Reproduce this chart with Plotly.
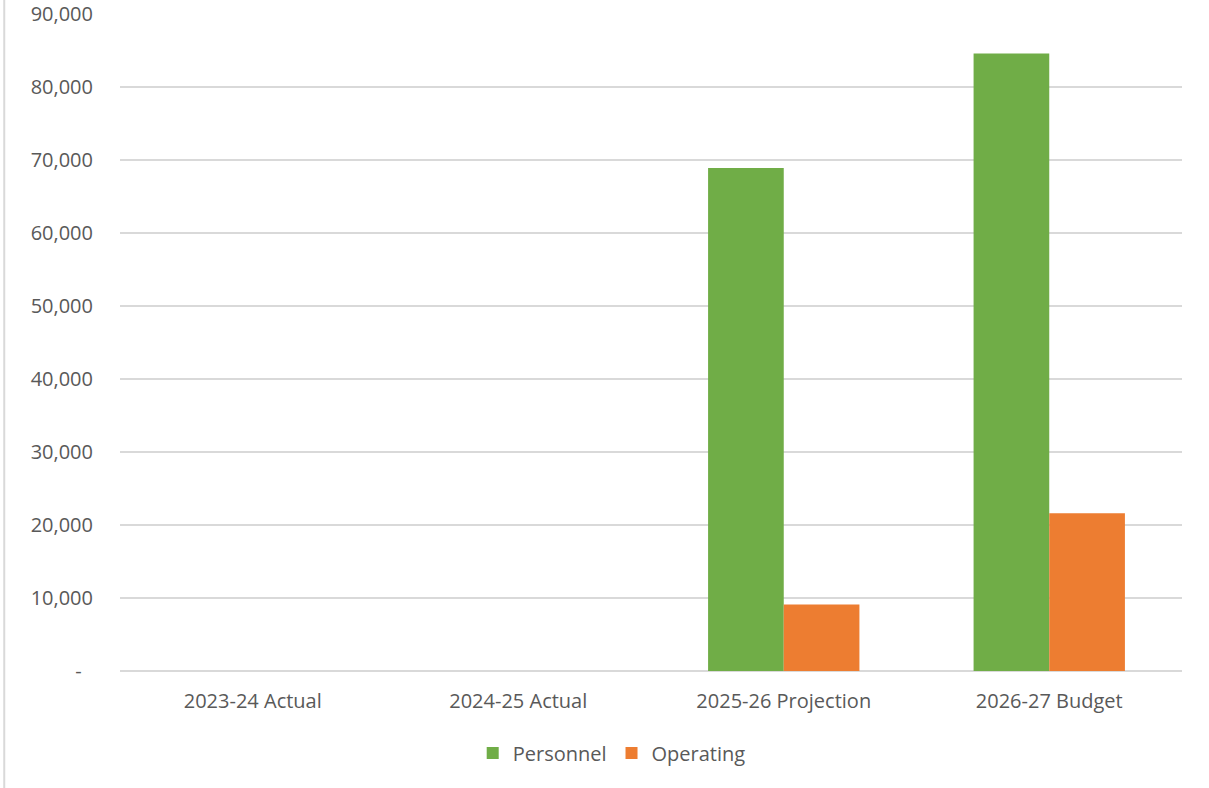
import plotly.graph_objects as go

categories = ["2023-24 Actual", "2024-25 Actual", "2025-26 Projection", "2026-27 Budget"]
personnel = [0, 0, 68900, 84600]
operating = [0, 0, 9100, 21600]

tick_vals = [0, 10000, 20000, 30000, 40000, 50000, 60000, 70000, 80000, 90000]
tick_text = ["-\u2007"] + [f"{v:,}" for v in tick_vals[1:]]

FONT = "Open Sans, Liberation Sans, sans-serif"
TEXT = "#595959"
GRID = "#d9d9d9"
FS = 20

fig = go.Figure()
fig.add_trace(go.Bar(name="Personnel", x=categories, y=personnel,
                     marker=dict(color="#70ad47", line=dict(width=0))))
fig.add_trace(go.Bar(name="Operating", x=categories, y=operating,
                     marker=dict(color="#ed7d31", line=dict(width=0))))

fig.update_layout(
    width=1209, height=788,
    margin=dict(l=120, r=27, t=14, b=117, autoexpand=False),
    paper_bgcolor="white", plot_bgcolor="white",
    barmode="group", bargap=0.43, bargroupgap=0,
    font=dict(family=FONT, size=FS, color=TEXT),
    showlegend=True,
    legend=dict(orientation="h", x=0.463, xanchor="center", y=-0.095, yanchor="top",
                font=dict(size=FS, color=TEXT), itemwidth=30, traceorder="normal"),
)
fig.update_xaxes(showgrid=False, showline=False, ticks="", ticklabelstandoff=16,
                 automargin=False, tickfont=dict(size=FS, color=TEXT))
fig.update_yaxes(range=[0, 90000], tickvals=tick_vals, ticktext=tick_text,
                 showgrid=True, gridcolor=GRID, gridwidth=1.5,
                 zeroline=True, zerolinecolor=GRID, zerolinewidth=1.5,
                 showline=False, ticks="", ticklabelstandoff=26, automargin=False,
                 tickfont=dict(size=FS, color=TEXT))

# thin frame edge on the left of the chart area
fig.add_shape(type="line", xref="paper", yref="paper",
              x0=-0.109, x1=-0.109, y0=-0.2, y1=1.03,
              line=dict(color="#d9d9d9", width=2), layer="below")

fig.write_html("out.html")
